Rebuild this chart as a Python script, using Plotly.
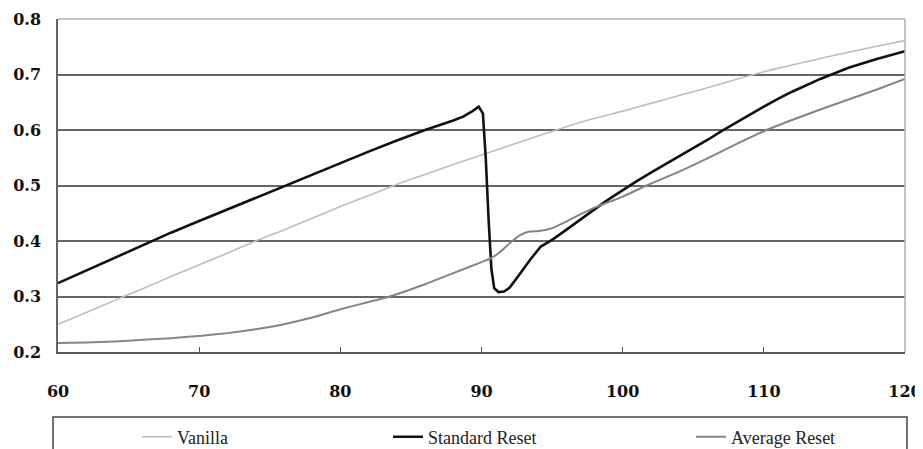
import plotly.graph_objects as go

# ---- data ----
vanilla_x = [60, 62, 64, 66, 68, 70, 72, 74, 76, 78, 80, 82, 84, 86, 88, 90, 92, 94, 96, 98,
             100, 102, 104, 106, 108, 110, 112, 114, 116, 118, 120]
vanilla_y = [0.250, 0.271, 0.293, 0.314, 0.336, 0.357, 0.378, 0.400, 0.420, 0.441, 0.462,
             0.482, 0.502, 0.520, 0.538, 0.555, 0.572, 0.589, 0.606, 0.621, 0.634, 0.648,
             0.662, 0.676, 0.691, 0.705, 0.717, 0.729, 0.740, 0.751, 0.761]

standard_x = [60, 62, 64, 66, 68, 70, 72, 74, 76, 78, 80, 82, 84, 86, 88, 88.7, 89.3, 89.8,
              90.1, 90.3, 90.5, 90.7, 90.9, 91.2, 91.6, 92, 92.7, 93.5, 94.2, 95, 96, 97, 98,
              99, 100, 101, 102, 104, 106, 107, 108, 110, 111, 112, 114, 116, 118, 120]
standard_y = [0.324, 0.347, 0.370, 0.393, 0.415, 0.436, 0.457, 0.478, 0.499, 0.520, 0.541,
              0.561, 0.581, 0.600, 0.617, 0.624, 0.633, 0.642, 0.630, 0.550, 0.440, 0.350,
              0.315, 0.308, 0.309, 0.316, 0.340, 0.368, 0.390, 0.402, 0.420, 0.439, 0.457,
              0.475, 0.492, 0.508, 0.523, 0.552, 0.582, 0.598, 0.613, 0.642, 0.656, 0.669,
              0.692, 0.712, 0.728, 0.742]

average_x = [60, 62, 64, 66, 68, 70, 72, 74, 76, 78, 80, 82, 83.5, 86, 88, 90, 90.6, 91.2,
             92, 92.7, 93.4, 94.1, 95, 96, 97, 98, 100, 101.7, 104, 106, 108, 110.2, 112,
             114, 116, 118, 120]
average_y = [0.216, 0.217, 0.219, 0.222, 0.225, 0.229, 0.234, 0.241, 0.250, 0.262, 0.277,
             0.290, 0.300, 0.322, 0.342, 0.362, 0.368, 0.378, 0.396, 0.410, 0.417, 0.418,
             0.423, 0.435, 0.448, 0.460, 0.480, 0.500, 0.525, 0.549, 0.574, 0.600, 0.618,
             0.637, 0.655, 0.673, 0.692]

x_ticks = [60, 70, 80, 90, 100, 110, 120]
y_ticks = [0.2, 0.3, 0.4, 0.5, 0.6, 0.7, 0.8]
y_grid = [0.3, 0.4, 0.5, 0.6, 0.7]

# page body has an 8px margin, so the figure is drawn 8px smaller and shifted
OFF = 8
W, H = 923 - OFF, 449 - OFF
L, R, T, B = 58 - OFF, 18, 19 - OFF, 97
pw, ph = W - L - R, H - T - B

def px_x(p):
    return (p - OFF - L) / pw

def px_y(p):
    return (H - B - (p - OFF)) / ph

fig = go.Figure()
fig.add_trace(go.Scatter(x=vanilla_x, y=vanilla_y, mode="lines", name="Vanilla",
                         line=dict(color="#bdbdbd", width=1.6, shape="spline", smoothing=0.6),
                         legend="legend"))
fig.add_trace(go.Scatter(x=standard_x, y=standard_y, mode="lines", name="Standard Reset",
                         line=dict(color="#111111", width=2.6), legend="legend2"))
fig.add_trace(go.Scatter(x=average_x, y=average_y, mode="lines", name="Average Reset",
                         line=dict(color="#858585", width=2.0, shape="spline", smoothing=0.5),
                         legend="legend3"))

tick_font = dict(family="DejaVu Serif", size=16, color="#111111")
leg_font = dict(family="Liberation Serif", size=18, color="#222222")
leg_common = dict(orientation="h", xanchor="left", yanchor="middle", font=leg_font,
                  bgcolor="rgba(0,0,0,0)", borderwidth=0)

fig.update_layout(
    width=W, height=H,
    margin=dict(l=L, r=R, t=T, b=B, autoexpand=False),
    paper_bgcolor="white", plot_bgcolor="white",
    xaxis=dict(range=[60, 120], tickvals=x_ticks, ticktext=[f"<b>{v}</b>" for v in x_ticks],
               showgrid=False, zeroline=False, showline=True, linecolor="#555555",
               linewidth=1.5, ticks="inside", ticklen=5, tickcolor="#555555",
               tickfont=tick_font, ticklabelstandoff=24),
    yaxis=dict(range=[0.2, 0.8], tickvals=y_ticks,
               ticktext=[f"<b>{v:.1f}</b>" for v in y_ticks],
               showgrid=False, zeroline=False, showline=True, linecolor="#666666",
               linewidth=1.5, ticks="", tickfont=tick_font, ticklabelstandoff=12),
    yaxis2=dict(range=[0.2, 0.8], tickvals=y_grid, overlaying="y", showticklabels=False,
                showgrid=True, gridcolor="#666666", gridwidth=1.6, zeroline=False,
                showline=False, ticks=""),
    legend=dict(x=px_x(137), y=px_y(437), **leg_common),
    legend2=dict(x=px_x(388), y=px_y(437), **leg_common),
    legend3=dict(x=px_x(691), y=px_y(437), **leg_common),
    shapes=[
        dict(type="line", xref="paper", yref="paper", x0=0, x1=1, y0=1, y1=1,
             line=dict(color="#b0b0b0", width=1.5)),
        dict(type="line", xref="paper", yref="paper", x0=1, x1=1, y0=0, y1=1,
             line=dict(color="#b0b0b0", width=1.5)),
        dict(type="rect", xref="paper", yref="paper", x0=px_x(53), x1=px_x(907),
             y0=px_y(470), y1=px_y(417), line=dict(color="#444444", width=1.5),
             fillcolor="rgba(0,0,0,0)"),
    ],
)
# dummy trace to activate yaxis2 gridlines
fig.add_trace(go.Scatter(x=[None], y=[None], yaxis="y2", showlegend=False, hoverinfo="skip"))

fig.write_html("out.html")
